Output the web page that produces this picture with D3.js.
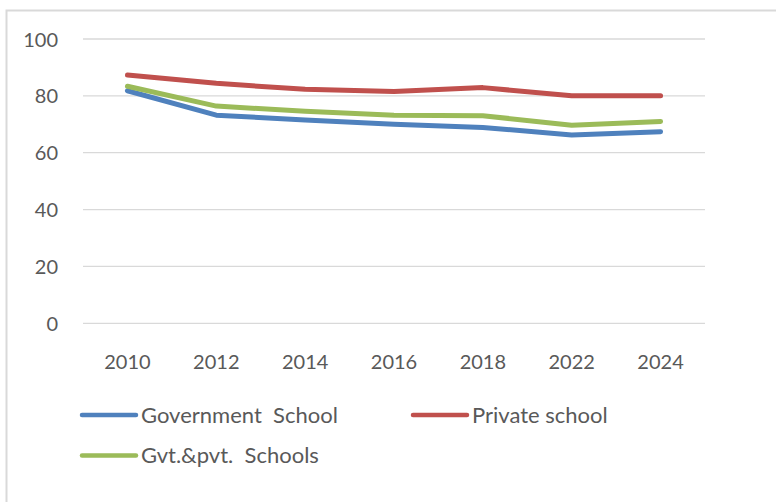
<!DOCTYPE html>
<html><head><meta charset="utf-8">
<script src="https://cdn.jsdelivr.net/npm/d3@7"></script>
<style>body{margin:0;background:#fff}svg{display:block}text{font-family:Lato,"Open Sans",sans-serif;fill:#595959}</style>
</head><body>
<script>
const years = ["2010","2012","2014","2016","2018","2022","2024"];
const govt = [81.8,73.2,71.5,70.0,68.9,66.2,67.4];
const pvt = [87.3,84.4,82.3,81.5,82.9,80.0,80.0];
const both = [83.4,76.4,74.6,73.2,73.0,69.7,71.0];
const yTicks = [0,20,40,60,80,100];
const seriesNames = ["Government  School","Private school","Gvt.&pvt.  Schools"];
const colors = ["#4F81BD","#C0504D","#9BBB59"];
const series = [govt,pvt,both];

const W=776,H=502;
const svg=d3.select("body").append("svg").attr("width",W).attr("height",H);
svg.append("path").attr("d","M6.5,520 V10.5 H790").attr("fill","none").attr("stroke","#d9d9d9").attr("stroke-width",2);

const x=d3.scaleBand().domain(years).range([83,705]);
const y=d3.scaleLinear().domain([0,100]).range([323.3,39]);
const cx=d=>x(d)+x.bandwidth()/2;

svg.selectAll("line.grid").data(yTicks).join("line")
 .attr("x1",83).attr("x2",705).attr("y1",d=>y(d)).attr("y2",d=>y(d))
 .attr("stroke","#d9d9d9").attr("stroke-width",1.3);
svg.selectAll("text.yl").data(yTicks).join("text")
 .attr("x",58).attr("y",d=>y(d)+7.5).attr("text-anchor","end")
 .attr("font-size",20).text(d=>d);
svg.selectAll("text.xl").data(years).join("text")
 .attr("x",d=>cx(d)).attr("y",369).attr("text-anchor","middle")
 .attr("font-size",20).text(d=>d);

const line=d3.line().x((d,i)=>cx(years[i])).y(d=>y(d));
series.forEach((s,i)=>{
  svg.append("path").datum(s).attr("d",line).attr("fill","none")
   .attr("stroke",colors[i]).attr("stroke-width",5).attr("stroke-linecap","round").attr("stroke-linejoin","round");
});

const leg=[{x:82,y:415},{x:413,y:415},{x:82,y:455.5}];
seriesNames.forEach((n,i)=>{
  svg.append("line").attr("x1",leg[i].x).attr("x2",leg[i].x+54).attr("y1",leg[i].y).attr("y2",leg[i].y)
   .attr("stroke",colors[i]).attr("stroke-width",4.5).attr("stroke-linecap","round");
  svg.append("text").attr("x",leg[i].x+59).attr("y",leg[i].y+7.5)
   .attr("font-size",22).style("white-space","pre").text(n);
});
</script>
</body></html>
